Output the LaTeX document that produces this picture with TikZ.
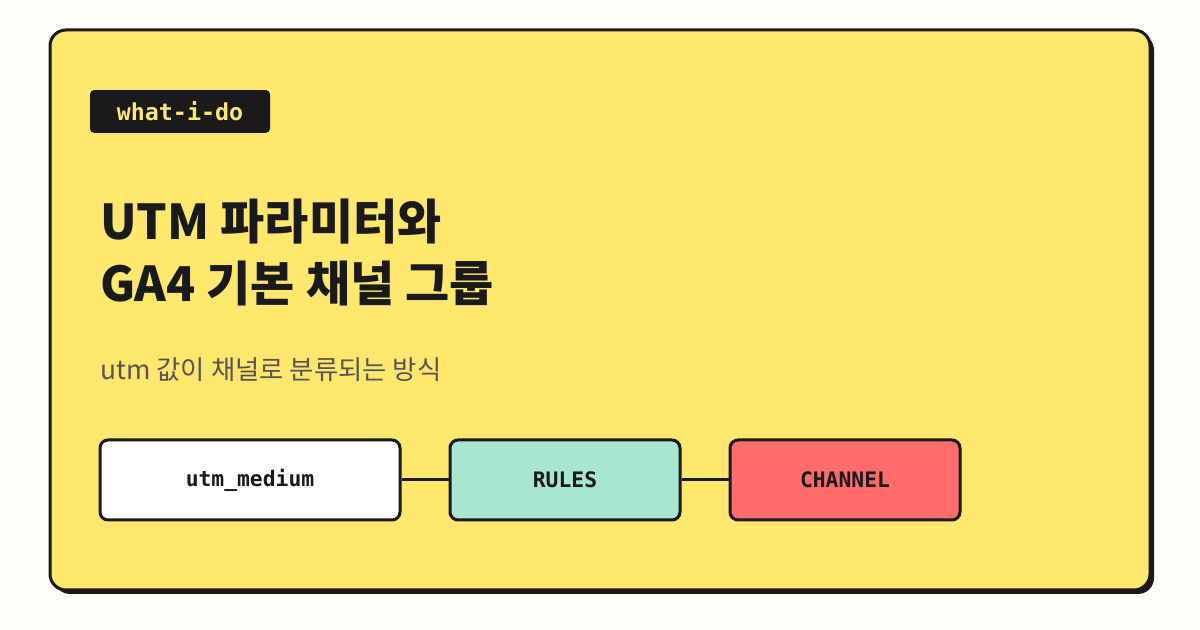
\documentclass[tikz,border=0pt]{standalone}
\usepackage{fontspec}
\setmainfont{Noto Sans CJK KR}
\newfontfamily\krfont{Noto Sans CJK KR}
\newfontfamily\monofont{DejaVu Sans Mono}
\usetikzlibrary{positioning}
\definecolor{ink}{HTML}{1A1A1A}
\definecolor{paper}{HTML}{FFFDF7}
\definecolor{cardfill}{HTML}{FFE66D}
\definecolor{mint}{HTML}{A8E6CF}
\definecolor{coral}{HTML}{FF6B6B}
\definecolor{subgray}{HTML}{555555}
\tikzset{
  flowbox/.style={draw=ink,line width=2.25pt,rounded corners=6pt,minimum height=60pt,
    font=\monofont\bfseries\fontsize{16}{18}\selectfont,text=ink},
  link/.style={draw=ink,line width=2.25pt}
}
\begin{document}
\begin{tikzpicture}[x=0.75pt,y=-0.75pt]

\fill[paper] (0,0) rectangle (1200,630);
\useasboundingbox (0,0) rectangle (1200,630);

% card with shadow
\fill[ink,rounded corners=12pt] (54,34) rectangle (1154,594);
\filldraw[fill=cardfill,draw=ink,line width=2.25pt,rounded corners=12pt] (50,30) rectangle (1150,590);

% tag
\node[fill=ink,rounded corners=3pt,minimum width=135pt,minimum height=32pt,inner sep=0pt,
  text=cardfill,font=\monofont\bfseries\fontsize{17.5}{19}\selectfont] (tag) at (180,111.5) {what-i-do};

% title
\node[anchor=base west,inner sep=0pt,text=ink,font=\krfont\bfseries\fontsize{36}{40}\selectfont] (title1) at (100,240) {UTM 파라미터와};
\node[anchor=base west,inner sep=0pt,text=ink,font=\krfont\bfseries\fontsize{36}{40}\selectfont] (title2) at (100,302) {GA4 기본 채널 그룹};
\node[anchor=base west,inner sep=0pt,text=subgray,font=\krfont\fontsize{19.8}{24}\selectfont] (sub) at (100,380) {utm 값이 채널로 분류되는 방식};

% flow
\node[flowbox,fill=white,minimum width=225pt] (medium) at (250,480) {utm\_medium};
\node[flowbox,fill=mint,minimum width=172.5pt] (rules) at (565,480) {RULES};
\node[flowbox,fill=coral,minimum width=172.5pt] (channel) at (845,480) {CHANNEL};
\draw[link] (medium) -- (rules);
\draw[link] (rules) -- (channel);

\end{tikzpicture}
\end{document}
